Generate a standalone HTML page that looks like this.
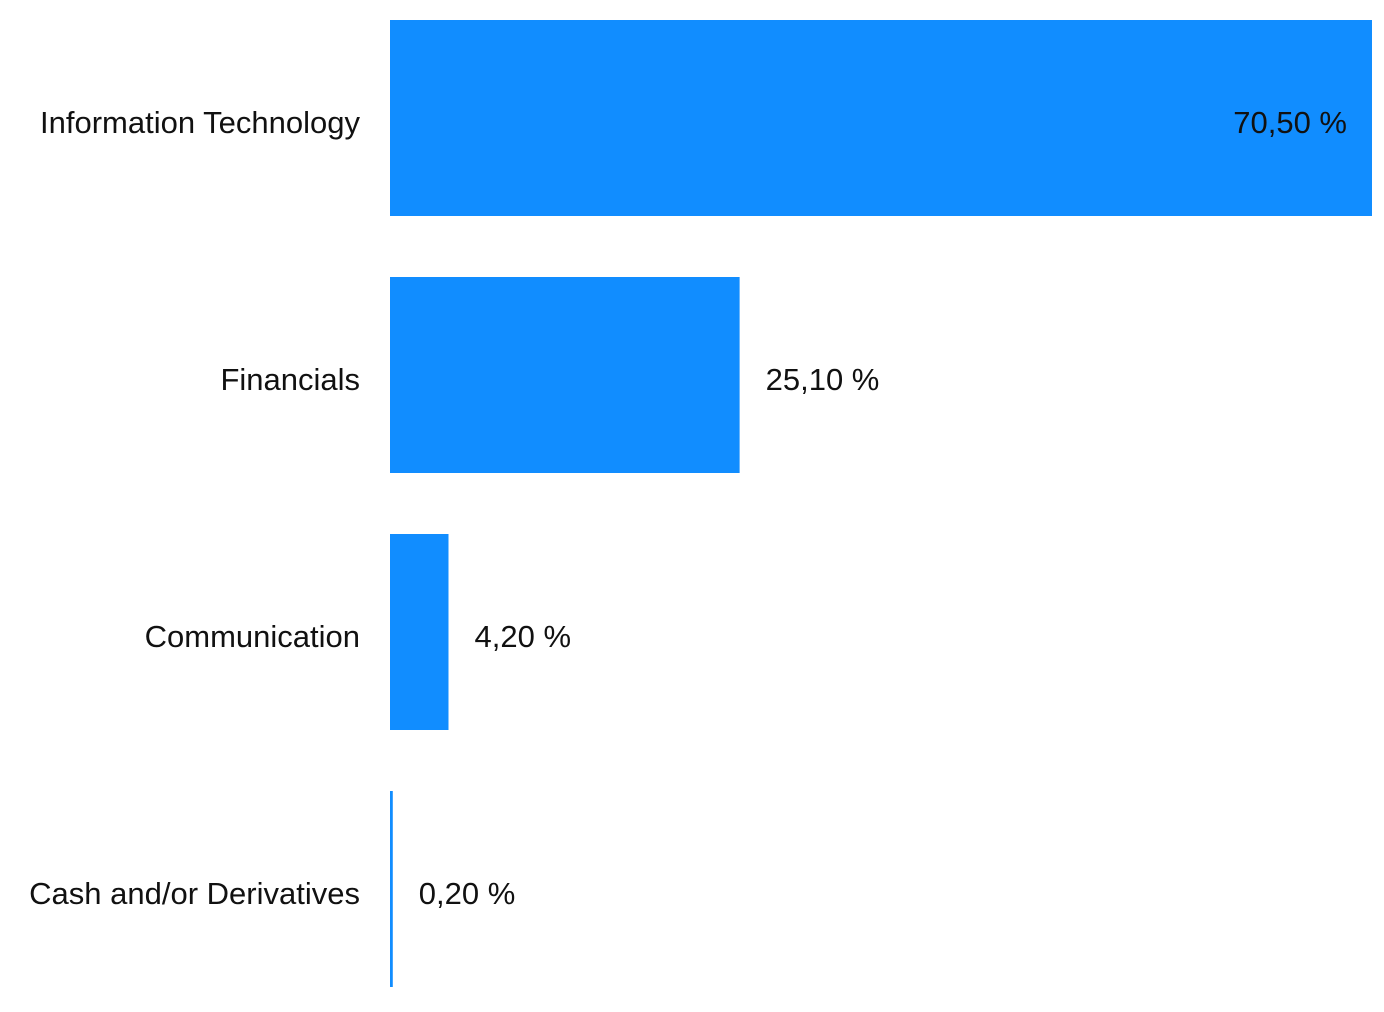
<!DOCTYPE html>
<html><head><meta charset="utf-8"><style>
html,body{margin:0;padding:0;background:#fff;}
svg{display:block;font-family:"Liberation Sans","DejaVu Sans",sans-serif;}
</style></head><body>
<svg id="chart" width="1384" height="1012" viewBox="0 0 1384 1012" xmlns="http://www.w3.org/2000/svg"></svg>
<script>
const categories = ["Information Technology","Financials","Communication","Cash and/or Derivatives"];
const values = [70.50, 25.10, 4.20, 0.20];
const valueLabels = ["70,50 %","25,10 %","4,20 %","0,20 %"];

const svg = document.getElementById('chart');
const NS = 'http://www.w3.org/2000/svg';
const x0 = 390, xMaxPx = 1372, maxVal = 70.5;
const top0 = 20, step = 257, barH = 196;
function xScale(v){ return x0 + (v / maxVal) * (xMaxPx - x0); }
function yBand(i){ return top0 + i * step; }

categories.forEach((c, i) => {
  const y = yBand(i);
  const xe = xScale(values[i]);
  const g = document.createElementNS(NS, 'g');
  
  
  svg.appendChild(g);

  const r = document.createElementNS(NS, 'rect');
  
  
  r.setAttribute('x', x0);
  r.setAttribute('y', y);
  r.setAttribute('width', Math.max(2, xe - x0));
  r.setAttribute('height', barH);
  r.setAttribute('fill', '#118DFF');
  g.appendChild(r);

  const t = document.createElementNS(NS, 'text');
  
  
  t.setAttribute('x', 360);
  t.setAttribute('y', y + barH / 2 + 15);
  t.setAttribute('text-anchor', 'end');
  t.setAttribute('font-size', '31');
  t.setAttribute('fill', '#111');
  t.textContent = c;
  g.appendChild(t);

  const v = document.createElementNS(NS, 'text');
  
  
  const inside = (xe - x0) > 400;
  v.setAttribute('x', inside ? xe - 25 : Math.max(xe, x0 + 2) + 26);
  v.setAttribute('y', y + barH / 2 + 15);
  v.setAttribute('text-anchor', inside ? 'end' : 'start');
  v.setAttribute('font-size', '31');
  v.setAttribute('fill', '#111');
  v.textContent = valueLabels[i];
  g.appendChild(v);
});
</script>
</body></html>
